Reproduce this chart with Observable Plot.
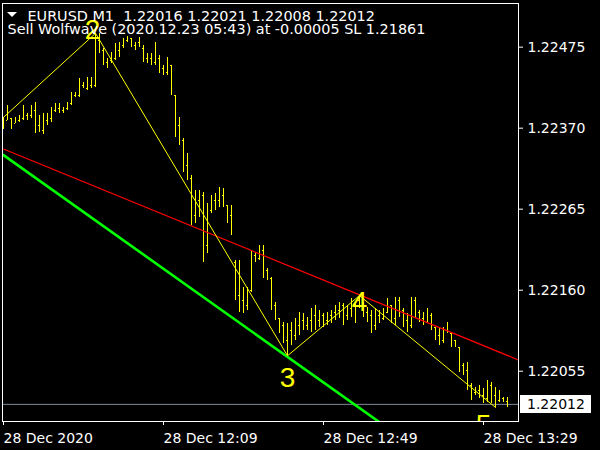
<!DOCTYPE html>
<html><head><meta charset="utf-8">
<script src="https://cdn.jsdelivr.net/npm/d3@7"></script>
<script src="https://cdn.jsdelivr.net/npm/@observablehq/plot@0.6"></script>
<style>
html,body{margin:0;padding:0;background:#000;}
#chart{width:600px;height:450px;overflow:hidden;}
</style></head><body><div id="chart"></div>
<script>
const headerLine = "EURUSD M1  1.22016 1.22021 1.22008 1.22012";
const signalLine = "Sell Wolfwave (2020.12.23 05:43) at -0.00005 SL 1.21861";
const startTime = "2020-12-28T11:29:00Z";

const opens = [1.22373,1.22380,1.22383,1.22376,1.22380,1.22383,1.22386,1.22386,1.22393,1.22373,
1.22367,1.22380,1.22383,1.22393,1.22396,1.22393,1.22396,1.22402,1.22412,1.22412,
1.22425,1.22421,1.22425,1.22425,1.22484,1.22471,1.22455,1.22458,1.22460,1.22471,
1.22477,1.22484,1.22486,1.22477,1.22481,1.22473,1.22460,1.22460,1.22455,1.22460,
1.22447,1.22442,1.22451,1.22412,1.22373,1.22354,1.22322,1.22305,1.22257,1.22276,
1.22283,1.22218,1.22263,1.22276,1.22276,1.22283,1.22270,1.22257,1.22196,1.22153,
1.22147,1.22140,1.22160,1.22205,1.22201,1.22211,1.22186,1.22175,1.22140,1.22123,
1.22114,1.22095,1.22108,1.22101,1.22114,1.22121,1.22114,1.22121,1.22127,1.22121,
1.22127,1.22121,1.22127,1.22131,1.22134,1.22140,1.22127,1.22136,1.22140,1.22147,
1.22144,1.22131,1.22127,1.22114,1.22127,1.22123,1.22131,1.22140,1.22123,1.22147,
1.22134,1.22121,1.22114,1.22147,1.22131,1.22123,1.22118,1.22127,1.22112,1.22101,
1.22095,1.22108,1.22104,1.22095,1.22086,1.22062,1.22056,1.22036,1.22027,1.22030,
1.22023,1.22020,1.22036,1.22023,1.22017,1.22020,1.22016];
const highs = [1.22384,1.22399,1.22383,1.22384,1.22386,1.22399,1.22389,1.22399,1.22403,1.22386,
1.22389,1.22389,1.22397,1.22402,1.22402,1.22397,1.22403,1.22416,1.22416,1.22434,
1.22429,1.22436,1.22436,1.22493,1.22493,1.22473,1.22460,1.22468,1.22480,1.22481,
1.22486,1.22489,1.22486,1.22481,1.22488,1.22477,1.22467,1.22467,1.22481,1.22464,
1.22451,1.22462,1.22451,1.22412,1.22384,1.22357,1.22337,1.22309,1.22289,1.22289,
1.22287,1.22272,1.22283,1.22285,1.22293,1.22292,1.22270,1.22270,1.22198,1.22198,
1.22163,1.22163,1.22211,1.22209,1.22218,1.22218,1.22188,1.22176,1.22144,1.22123,
1.22118,1.22117,1.22118,1.22123,1.22131,1.22130,1.22125,1.22136,1.22140,1.22134,
1.22130,1.22131,1.22134,1.22140,1.22144,1.22143,1.22140,1.22149,1.22144,1.22153,
1.22144,1.22138,1.22134,1.22136,1.22134,1.22136,1.22149,1.22140,1.22151,1.22151,
1.22136,1.22130,1.22151,1.22151,1.22134,1.22131,1.22136,1.22130,1.22112,1.22112,
1.22112,1.22118,1.22104,1.22095,1.22086,1.22065,1.22066,1.22039,1.22034,1.22036,
1.22033,1.22043,1.22040,1.22034,1.22030,1.22021,1.22021];
const lows = [1.22368,1.22380,1.22368,1.22376,1.22377,1.22380,1.22380,1.22383,1.22363,1.22364,
1.22362,1.22373,1.22377,1.22390,1.22389,1.22389,1.22393,1.22399,1.22410,1.22410,
1.22421,1.22419,1.22421,1.22423,1.22467,1.22451,1.22447,1.22454,1.22458,1.22462,
1.22473,1.22481,1.22475,1.22471,1.22475,1.22455,1.22454,1.22451,1.22451,1.22441,
1.22438,1.22438,1.22412,1.22358,1.22348,1.22313,1.22302,1.22244,1.22246,1.22254,
1.22196,1.22208,1.22259,1.22263,1.22267,1.22267,1.22246,1.22231,1.22147,1.22131,
1.22130,1.22134,1.22157,1.22196,1.22198,1.22175,1.22173,1.22134,1.22121,1.22104,
1.22091,1.22075,1.22088,1.22095,1.22101,1.22108,1.22108,1.22105,1.22108,1.22112,
1.22112,1.22114,1.22117,1.22121,1.22123,1.22114,1.22121,1.22125,1.22117,1.22136,
1.22125,1.22118,1.22104,1.22108,1.22117,1.22121,1.22130,1.22117,1.22114,1.22125,
1.22112,1.22105,1.22110,1.22123,1.22118,1.22114,1.22118,1.22108,1.22095,1.22088,
1.22091,1.22104,1.22086,1.22086,1.22053,1.22049,1.22030,1.22017,1.22023,1.22020,
1.22013,1.22014,1.22013,1.22008,1.22014,1.22014,1.22008];
const closes = [1.22380,1.22390,1.22373,1.22381,1.22384,1.22393,1.22384,1.22396,1.22373,1.22370,
1.22380,1.22383,1.22393,1.22396,1.22399,1.22393,1.22402,1.22412,1.22415,1.22429,
1.22425,1.22432,1.22423,1.22484,1.22473,1.22458,1.22458,1.22464,1.22473,1.22477,
1.22484,1.22488,1.22481,1.22477,1.22484,1.22460,1.22460,1.22458,1.22475,1.22447,
1.22445,1.22458,1.22416,1.22367,1.22361,1.22322,1.22331,1.22257,1.22276,1.22283,
1.22224,1.22263,1.22276,1.22279,1.22283,1.22270,1.22257,1.22235,1.22153,1.22147,
1.22140,1.22160,1.22205,1.22201,1.22211,1.22186,1.22179,1.22140,1.22123,1.22114,
1.22095,1.22108,1.22101,1.22114,1.22121,1.22114,1.22121,1.22127,1.22121,1.22127,
1.22121,1.22127,1.22131,1.22134,1.22140,1.22127,1.22136,1.22140,1.22134,1.22144,
1.22131,1.22127,1.22114,1.22127,1.22123,1.22131,1.22140,1.22127,1.22147,1.22134,
1.22121,1.22114,1.22147,1.22131,1.22123,1.22118,1.22131,1.22114,1.22101,1.22095,
1.22108,1.22108,1.22095,1.22088,1.22062,1.22056,1.22036,1.22027,1.22030,1.22023,
1.22020,1.22036,1.22023,1.22017,1.22020,1.22017,1.22012];

// Wolfe wave pivots (bar index, price)
const wolfeBars = [0, 23, 71, 89, 123];
const wolfePrices = [1.22384, 1.22493, 1.22075, 1.22153, 1.22008];
const wolfeLabels = ["1", "2", "3", "4", "5"];
// 1-4 target line (red) and 1-3 line (green)
const redBars = [0, 129];
const redPrices = [1.22343, 1.22069];
const greenBars = [0, 129];
const greenPrices = [1.22335, 1.21860];

const priceTicks = [1.22055, 1.22160, 1.22265, 1.22370, 1.22475];
const timeTickBars = [0, 40, 80, 120];
const timeTickLabels = ["28 Dec 2020", "28 Dec 12:09", "28 Dec 12:49", "28 Dec 13:29"];
const lastPrice = 1.22012;
const yDomain = [1.219898, 1.225316];

// ---------- build ----------
const T0 = new Date(startTime).getTime();
const barTime = i => new Date(T0 + i * 60000);
const bars = opens.map((o, i) => ({t: barTime(i), o, h: highs[i], l: lows[i], c: closes[i]}));
const wolfe = wolfeBars.map((b, i) => ({t: barTime(b), p: wolfePrices[i], label: wolfeLabels[i]}));
const red = redBars.map((b, i) => ({t: barTime(b), p: redPrices[i]}));
const green = greenBars.map((b, i) => ({t: barTime(b), p: greenPrices[i]}));
const timeTicks = timeTickBars.map(barTime);
const labelMap = new Map(timeTicks.map((d, i) => [+d, timeTickLabels[i]]));
const arm = 20000;
const YEL = "#ffff00";
const FONT = "DejaVu Sans";
const LBL = "Liberation Sans";

function overlay(index, scales, values, dims) {
  const g = d3.create("svg:g");
  const yy = Math.round(scales.y(lastPrice));
  const x0 = dims.width - dims.marginRight;
  g.append("rect").attr("x", x0 + 2).attr("y", yy - 9).attr("width", 71).attr("height", 18).attr("fill", "white");
  g.append("text").attr("x", x0 + 9).attr("y", yy).attr("dy", "0.36em").attr("text-anchor", "start")
    .attr("fill", "black").attr("font-family", FONT).attr("font-size", 14).text(lastPrice.toFixed(5));
  // dropdown triangle of the header
  g.append("path").attr("d", `M${dims.marginLeft + 5},${dims.marginTop + 9}h10l-5,5z`).attr("fill", "white");
  return g.node();
}

const wl = k => wolfe.filter(d => d.label === k);

const chart = Plot.plot({
  width: 600, height: 450,
  marginLeft: 2, marginRight: 82, marginTop: 3, marginBottom: 29,
  style: {background: "black", color: "white", fontFamily: FONT, fontSize: "14px"},
  x: {type: "utc", domain: [barTime(-0.25), barTime(128.75)], label: null},
  y: {domain: yDomain, label: null},
  marks: [
    Plot.ruleY([lastPrice], {stroke: "#7f8c9a", strokeWidth: 1}),
    Plot.ruleX(bars, {x: "t", y1: "l", y2: "h", stroke: YEL, strokeWidth: 1, shapeRendering: "crispEdges"}),
    Plot.ruleY(bars, {y: "o", x1: d => new Date(+d.t - arm), x2: "t", stroke: YEL, strokeWidth: 1, shapeRendering: "crispEdges"}),
    Plot.ruleY(bars, {y: "c", x1: "t", x2: d => new Date(+d.t + arm), stroke: YEL, strokeWidth: 1, shapeRendering: "crispEdges"}),
    Plot.line(red, {x: "t", y: "p", stroke: "#ff0000", strokeWidth: 1.2, clip: true}),
    Plot.line(green, {x: "t", y: "p", stroke: "#00ff00", strokeWidth: 2.6, clip: true}),
    Plot.line(wolfe, {x: "t", y: "p", stroke: YEL, strokeWidth: 1, clip: true}),
    Plot.text(wl("2"), {x: "t", y: "p", text: "label", fill: YEL, fontSize: 28, fontFamily: LBL, dx: -3, dy: -3, clip: true}),
    Plot.text(wl("3"), {x: "t", y: "p", text: "label", fill: YEL, fontSize: 28, fontFamily: LBL, dx: 0, dy: 22, clip: true}),
    Plot.text(wl("4"), {x: "t", y: "p", text: "label", fill: YEL, fontSize: 28, fontFamily: LBL, dx: 0, dy: 6, clip: true}),
    Plot.text(wl("5"), {x: "t", y: "p", text: "label", fill: YEL, fontSize: 28, fontFamily: LBL, dx: -12, dy: 18, clip: true}),
    Plot.frame({stroke: "white"}),
    Plot.axisY(priceTicks, {anchor: "right", label: null, tickSize: 4, tickPadding: 5, tickFormat: d => d.toFixed(5), stroke: "white", fill: "white", fontSize: 14}),
    Plot.axisX(timeTicks, {anchor: "bottom", label: null, tickSize: 4, tickPadding: 8, tickFormat: d => labelMap.get(+d), textAnchor: "start", stroke: "white", fill: "white", fontSize: 14}),
    Plot.text([headerLine], {text: d => d, frameAnchor: "top-left", dx: 25, dy: 17, lineAnchor: "bottom", textAnchor: "start", fill: "white", fontSize: 14.4}),
    Plot.text([signalLine], {text: d => d, frameAnchor: "top-left", dx: 5, dy: 30, lineAnchor: "bottom", textAnchor: "start", fill: "white", fontSize: 14.4}),
    overlay
  ]
});
document.getElementById("chart").append(chart);
</script></body></html>
